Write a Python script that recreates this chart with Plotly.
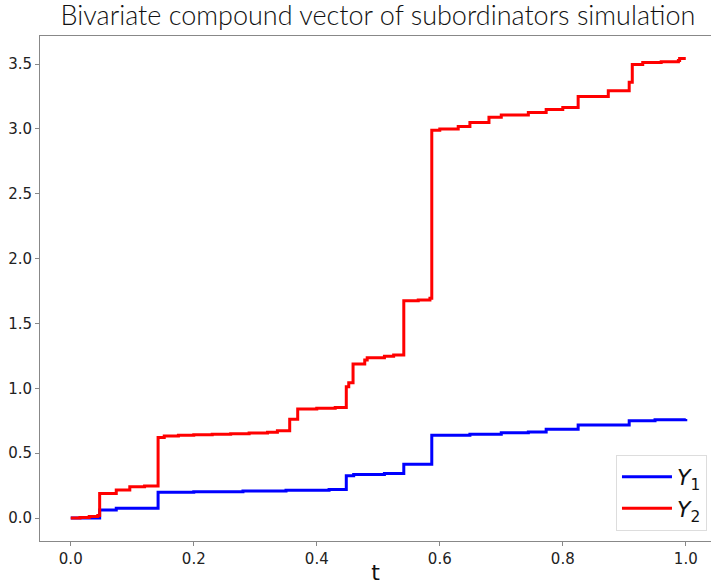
import plotly.graph_objects as go

# jump times and values after each jump (step paths)
t_y1 = [0.0, 0.047, 0.074, 0.142, 0.20, 0.28, 0.35, 0.42, 0.448, 0.46, 0.51,
        0.5415, 0.587, 0.649, 0.70, 0.744, 0.773, 0.825, 0.908, 0.95, 1.0]
y1 = [0.0, 0.062, 0.075, 0.198, 0.203, 0.208, 0.215, 0.221, 0.326, 0.336, 0.343,
      0.414, 0.638, 0.647, 0.657, 0.664, 0.685, 0.717, 0.75, 0.757, 0.763]

t_y2 = [0.0, 0.015, 0.03, 0.044, 0.047, 0.074, 0.096, 0.12, 0.142, 0.152, 0.175,
        0.2, 0.23, 0.26, 0.29, 0.32, 0.336, 0.356, 0.369, 0.40, 0.43, 0.448,
        0.452, 0.459, 0.478, 0.482, 0.51, 0.525, 0.5415, 0.565, 0.584, 0.587,
        0.6, 0.63, 0.649, 0.68, 0.70, 0.744, 0.773, 0.80, 0.825, 0.874, 0.908,
        0.913, 0.93, 0.96, 0.988, 0.99, 1.0]
y2 = [0.0, 0.005, 0.012, 0.02, 0.19, 0.216, 0.241, 0.248, 0.622, 0.632, 0.638,
      0.643, 0.647, 0.65, 0.656, 0.662, 0.674, 0.761, 0.84, 0.847, 0.852, 1.012,
      1.043, 1.187, 1.218, 1.236, 1.248, 1.258, 1.675, 1.682, 1.694, 2.99,
      3.0, 3.02, 3.05, 3.09, 3.107, 3.128, 3.15, 3.165, 3.25, 3.295, 3.36,
      3.498, 3.512, 3.518, 3.528, 3.544, 3.544]

x_ticks = [0.0, 0.2, 0.4, 0.6, 0.8, 1.0]
y_ticks = [0.0, 0.5, 1.0, 1.5, 2.0, 2.5, 3.0, 3.5]

fig = go.Figure()
fig.add_trace(go.Scatter(x=t_y1, y=y1, mode='lines', line_shape='hv',
                         line=dict(color='#0000ff', width=3),
                         name='<i>Y</i><sub>1</sub>'))
fig.add_trace(go.Scatter(x=t_y2, y=y2, mode='lines', line_shape='hv',
                         line=dict(color='#ff0000', width=3),
                         name='<i>Y</i><sub>2</sub>'))

axis_style = dict(showgrid=False, zeroline=False, showline=True,
                  linecolor='#888888', linewidth=1, ticks='outside',
                  ticklen=4, tickcolor='#888888', automargin=False,
                  tickfont=dict(family='DejaVu Sans', size=15, color='#222'))

fig.update_layout(
    width=711, height=585,
    margin=dict(l=40, r=0, t=36, b=44),
    plot_bgcolor='white', paper_bgcolor='white',
    hovermode=False,
    title=dict(text='Bivariate compound vector of subordinators simulation',
               x=(40 + 716) / 2 / 711, xanchor='center', y=0.99, yanchor='top',
               font=dict(family='Lato', size=27, color='#111', weight=300)),
    xaxis=dict(range=[-0.05, 1.041], tickvals=x_ticks,
               tickformat='.1f', mirror=True,
               title=dict(text='t', standoff=2,
                          font=dict(family='DejaVu Sans', size=22, color='#111')),
               **axis_style),
    yaxis=dict(range=[-0.177, 3.717], tickvals=y_ticks, tickformat='.1f',
               **axis_style),
    legend=dict(x=0.994, xanchor='right', y=0.02, yanchor='bottom',
                bgcolor='white', bordercolor='#dddddd', borderwidth=1,
                itemwidth=50,
                font=dict(family='DejaVu Sans', size=22, color='#111')),
    showlegend=True,
)

# drop the default body margin so the figure sits at the window's corner
fig.write_html("out.html", config={'displayModeBar': False},
               post_script="document.body.style.margin='0';")
